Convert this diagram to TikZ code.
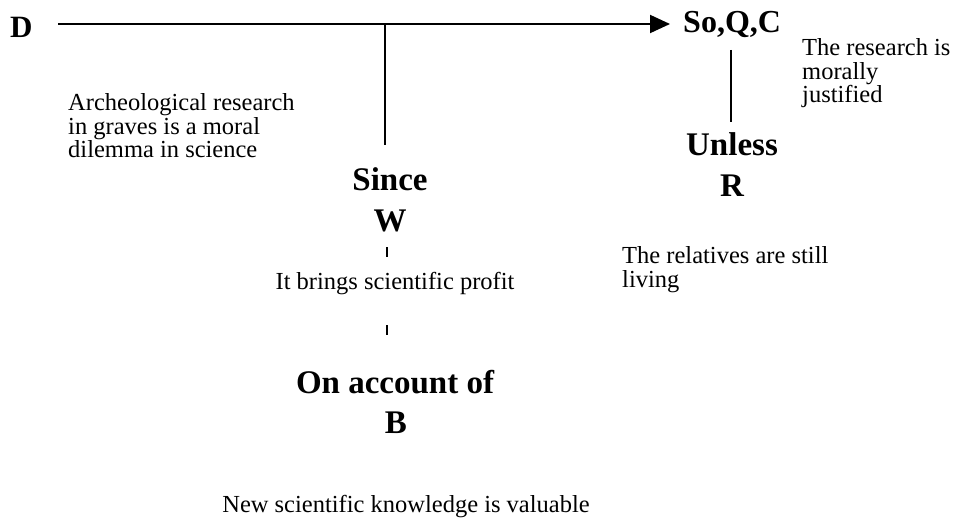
\documentclass[tikz,border=0pt]{standalone}
\usepackage{fontspec}
\setmainfont{Liberation Serif}
\usetikzlibrary{arrows.meta}
\begin{document}
\begin{tikzpicture}[x=1pt,y=-1pt,
  lbl/.style={inner sep=0pt,font=\bfseries\fontsize{33}{40}\selectfont},
  txt/.style={inner sep=0pt,font=\fontsize{24.5}{23.5}\selectfont,align=left},
  conn/.style={line width=2pt},
  tick/.style={line width=1.6pt},
  arr/.style={line width=2pt,-{Triangle[length=20pt,width=18pt]}}]
\useasboundingbox (0,0) rectangle (969,527);
% main labels
\node[lbl,font=\bfseries\fontsize{31}{36}\selectfont,anchor=base west] (D) at (10,38) {D};
\node[lbl,font=\bfseries\fontsize{32}{38}\selectfont,anchor=base west] (C) at (683,33) {So,Q,C};
\node[lbl,anchor=base] (since) at (390,190) {Since};
\node[lbl,anchor=base] (W) at (390,231) {W};
\node[lbl,anchor=base] (unless) at (732,155) {Unless};
\node[lbl,anchor=base] (R) at (732,196) {R};
\node[lbl,anchor=base] (onacc) at (395,393) {On account of};
\node[lbl,anchor=base] (B) at (396,433) {B};
% texts
\node[txt,anchor=north west] (dtext) at (68,93.3) {Archeological research\\in graves is a moral\\dilemma in science};
\node[txt,anchor=north west] (ctext) at (802,38.3) {The research is\\morally\\justified};
\node[txt,anchor=north west] (rtext) at (622,246.3) {The relatives are still\\living};
\node[txt,anchor=base] (wtext) at (395,289) {It brings scientific profit};
\node[txt,anchor=base] (btext) at (406,512) {New scientific knowledge is valuable};
% connectors
\coordinate (L0) at (58,24);
\coordinate (L1) at (670,24);
\coordinate (J) at (385,24);
\coordinate (Jb) at (385,145);
\draw[arr] (L0) -- (L1);
\draw[conn] (J) -- (Jb);
\coordinate (Ct) at (731,50);
\coordinate (Cb) at (731,122);
\draw[conn] (Ct) -- (Cb);
\coordinate (T1a) at (387,247);
\coordinate (T1b) at (387,257);
\coordinate (T2a) at (387,325);
\coordinate (T2b) at (387,335);
\draw[tick] (T1a) -- (T1b);
\draw[tick] (T2a) -- (T2b);
\end{tikzpicture}
\end{document}
